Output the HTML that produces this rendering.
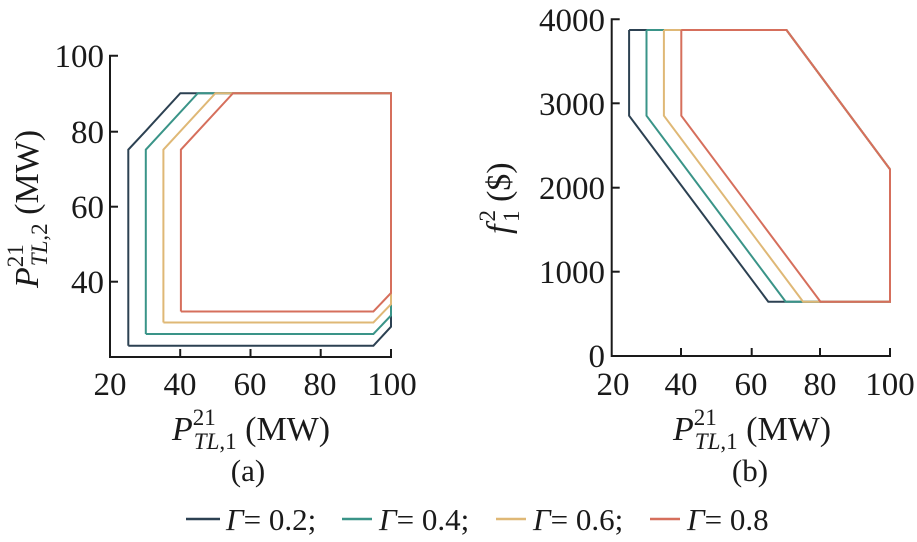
<!DOCTYPE html>
<html><head><meta charset="utf-8"><style>
html,body{margin:0;padding:0;background:#fff;}
svg text{font-family:"Liberation Serif",serif;fill:#1a1a1a;}
</style></head><body>
<svg width="917" height="537" viewBox="0 0 917 537" xmlns="http://www.w3.org/2000/svg">
<g fill="none" stroke-width="2" stroke-linejoin="miter">
<polyline stroke="#2c4152" points="128.3,345.7 128.3,149.7 145.8,130.9 180.3,93.2 391,93.2 391,326.7 373.4,345.7 128.3,345.7"/>
<polyline stroke="#3a9488" points="145.8,334 145.8,149.7 197.8,93.2 391,93.2 391,315.5 373.4,334 145.8,334"/>
<polyline stroke="#dfb876" points="163.4,322.5 163.4,149.7 215.4,93.2 391,93.2 391,304.2 373.4,322.5 163.4,322.5"/>
<polyline stroke="#d66f5c" points="180.9,311.5 180.9,149.7 233,93.2 391,93.2 391,293 373.4,311.5 180.9,311.5"/>
</g>
<g stroke="#1a1a1a" stroke-width="2" fill="none">
<polyline points="118,55.7 110,55.7 110,357 391,357 391,349"/>
<line x1="110" y1="131.7" x2="118" y2="131.7"/>
<line x1="110" y1="206.7" x2="118" y2="206.7"/>
<line x1="110" y1="281.7" x2="118" y2="281.7"/>
<line x1="180.2" y1="357" x2="180.2" y2="349"/>
<line x1="250.5" y1="357" x2="250.5" y2="349"/>
<line x1="320.7" y1="357" x2="320.7" y2="349"/>
</g>
<g font-size="33" text-anchor="end">
<text x="104" y="67">100</text>
<text x="104" y="143">80</text>
<text x="104" y="218">60</text>
<text x="104" y="293">40</text>
</g>
<g font-size="33" text-anchor="middle">
<text x="110" y="395">20</text>
<text x="180" y="395">40</text>
<text x="250" y="395">60</text>
<text x="320" y="395">80</text>
<text x="392" y="395">100</text>
</g>
<text x="172" y="440" font-size="34"><tspan font-style="italic">P</tspan><tspan font-size="23" dy="-15">21</tspan><tspan font-size="23" font-style="italic" dx="-22" dy="24">TL</tspan><tspan font-size="23" dy="0">,1</tspan><tspan dy="-9"> (MW)</tspan></text>
<g transform="translate(38,288) rotate(-90)">
<text x="0" y="0" font-size="34"><tspan font-style="italic">P</tspan><tspan font-size="23" dy="-15">21</tspan><tspan font-size="23" font-style="italic" dx="-22" dy="24">TL</tspan><tspan font-size="23" dy="0">,2</tspan><tspan dy="-9"> (MW)</tspan></text>
</g>
<text x="248" y="481" font-size="31" text-anchor="middle">(a)</text>

<g fill="none" stroke-width="2">
<polyline stroke="#2c4152" points="629.1,30 629.1,115.7 768.3,301.7 890,301.7 890,169.3 786.5,30 629.1,30"/>
<polyline stroke="#3a9488" points="646.5,30 646.5,115.7 785.7,301.7 890,301.7 890,169.3 786.5,30 646.5,30"/>
<polyline stroke="#dfb876" points="663.9,30 663.9,115.7 803.1,301.7 890,301.7 890,169.3 786.5,30 663.9,30"/>
<polyline stroke="#d66f5c" points="681.3,30 681.3,115.7 820.5,301.7 890,301.7 890,169.3 786.5,30 681.3,30"/>
</g>
<g stroke="#1a1a1a" stroke-width="2" fill="none">
<polyline points="619.7,19.3 611.7,19.3 611.7,356 890,356 890,348"/>
<line x1="611.7" y1="103.3" x2="619.7" y2="103.3"/>
<line x1="611.7" y1="187.7" x2="619.7" y2="187.7"/>
<line x1="611.7" y1="271.7" x2="619.7" y2="271.7"/>
<line x1="681" y1="356" x2="681" y2="348"/>
<line x1="751.7" y1="356" x2="751.7" y2="348"/>
<line x1="820" y1="356" x2="820" y2="348"/>
</g>
<g font-size="33" text-anchor="end">
<text x="605" y="31">4000</text>
<text x="605" y="115">3000</text>
<text x="605" y="199">2000</text>
<text x="605" y="283">1000</text>
<text x="605" y="367">0</text>
</g>
<g font-size="33" text-anchor="middle">
<text x="613" y="395">20</text>
<text x="681" y="395">40</text>
<text x="751" y="395">60</text>
<text x="820" y="395">80</text>
<text x="890" y="395">100</text>
</g>
<text x="673" y="440" font-size="34"><tspan font-style="italic">P</tspan><tspan font-size="23" dy="-15">21</tspan><tspan font-size="23" font-style="italic" dx="-22" dy="24">TL</tspan><tspan font-size="23" dy="0">,1</tspan><tspan dy="-9"> (MW)</tspan></text>
<g transform="translate(510,234) rotate(-90)">
<text x="0" y="0" font-size="34"><tspan font-style="italic">f</tspan><tspan font-size="23" dy="-15" dx="3">2</tspan><tspan font-size="23" dx="-12" dy="24">1</tspan><tspan dy="-9"> ($)</tspan></text>
</g>
<text x="750" y="481" font-size="31" text-anchor="middle">(b)</text>

<g stroke-width="2.5">
<line x1="186" y1="519" x2="220" y2="519" stroke="#2c4152"/>
<line x1="342" y1="519" x2="372" y2="519" stroke="#3a9488"/>
<line x1="496" y1="519" x2="526" y2="519" stroke="#dfb876"/>
<line x1="650" y1="519" x2="680" y2="519" stroke="#d66f5c"/>
</g>
<g font-size="31">
<text x="226" y="530"><tspan font-style="italic">Γ</tspan>= 0.2;</text>
<text x="379" y="530"><tspan font-style="italic">Γ</tspan>= 0.4;</text>
<text x="533" y="530"><tspan font-style="italic">Γ</tspan>= 0.6;</text>
<text x="687" y="530"><tspan font-style="italic">Γ</tspan>= 0.8</text>
</g>
</svg>
</body></html>
